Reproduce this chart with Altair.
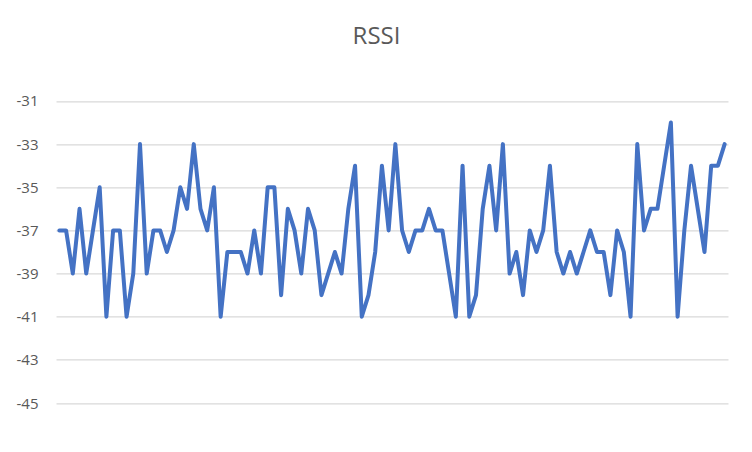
import altair as alt
import pandas as pd

# RSSI readings, one per sample
rssi = [
    -37, -37, -39, -36, -39, -37, -35, -41, -37, -37,
    -41, -39, -33, -39, -37, -37, -38, -37, -35, -36,
    -33, -36, -37, -35, -41, -38, -38, -38, -39, -37,
    -39, -35, -35, -40, -36, -37, -39, -36, -37, -40,
    -39, -38, -39, -36, -34, -41, -40, -38, -34, -37,
    -33, -37, -38, -37, -37, -36, -37, -37, -39, -41,
    -34, -41, -40, -36, -34, -37, -33, -39, -38, -40,
    -37, -38, -37, -34, -38, -39, -38, -39, -38, -37,
    -38, -38, -40, -37, -38, -41, -33, -37, -36, -36,
    -34, -32, -41, -37, -34, -36, -38, -34, -34, -33,
]
samples = list(range(1, len(rssi) + 1))
y_ticks = [-45, -43, -41, -39, -37, -35, -33, -31]

df = pd.DataFrame({"sample": samples, "rssi": rssi})

font = "Open Sans"
grey = "#595959"

chart = alt.Chart(df).mark_line(
    color="#4472C4", strokeWidth=4, strokeJoin="round", strokeCap="round"
).encode(
    x=alt.X("sample:Q", scale=alt.Scale(domain=[0.5, len(rssi) + 0.5], nice=False, zero=False), axis=None),
    y=alt.Y("rssi:Q",
            scale=alt.Scale(domain=[-45, -30], nice=False, zero=False),
            axis=alt.Axis(values=y_ticks, title=None, domain=False, ticks=False,
                          labelExpr="'' + datum.value",
                          labelPadding=18, labelFont=font, labelFontSize=15,
                          labelColor=grey, gridColor="#d9d9d9", gridWidth=1.3)),
).properties(
    width=672,
    height=323.6,
    autosize=alt.AutoSizeParams(type="none"),
    padding={"left": 48, "top": 71.4, "right": 16, "bottom": 30},
    title=alt.TitleParams("RSSI", font=font, fontSize=24, fontWeight="normal",
                          color=grey, anchor="middle", dx=-15.5, offset=30),
).configure_view(stroke=None)

chart.save("out.html", embed_options={"renderer": "svg", "actions": False})
